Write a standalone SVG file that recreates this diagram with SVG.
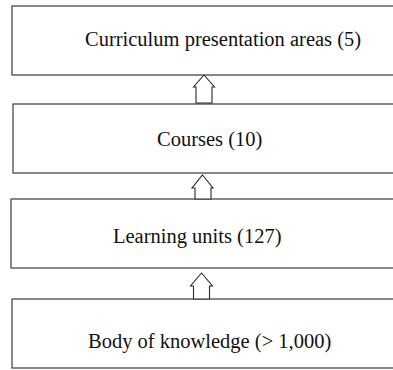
<svg xmlns="http://www.w3.org/2000/svg" width="393" height="370" viewBox="0 0 393 370">
<style>
.box{fill:#fff;stroke:#3a3a3a;stroke-width:1.2}
.lbl{font-family:"Liberation Serif","Times New Roman",serif;font-size:20.5px;fill:#111}
.arr{fill:#fff;stroke:#2a2a2a;stroke-width:1.1;stroke-linejoin:miter}
</style>
<rect width="393" height="370" fill="#fff"/>
<g id="node-curriculum">
<rect class="box" x="12" y="6" width="400" height="69"/>
<text class="lbl" x="85" y="46">Curriculum presentation areas (5)</text>
</g>
<g id="node-courses">
<rect class="box" x="13" y="104" width="400" height="69"/>
<text class="lbl" x="157" y="146">Courses (10)</text>
</g>
<g id="node-learning">
<rect class="box" x="11" y="199" width="400" height="69"/>
<text class="lbl" x="113" y="243">Learning units (127)</text>
</g>
<g id="node-body">
<rect class="box" x="12" y="299" width="400" height="69"/>
<text class="lbl" x="88" y="348">Body of knowledge (&gt; 1,000)</text>
</g>
<g id="connectors">
<path class="arr" d="M204,75 L214.5,87 L212,87 L212,103 L196,103 L196,87 L193.5,87 Z"/>
<path class="arr" d="M202.5,175 L213,188 L211,188 L211,199 L195,199 L195,188 L192,188 Z"/>
<path class="arr" d="M201.5,273 L212.5,286 L209.5,286 L209.5,299 L193.5,299 L193.5,286 L190.5,286 Z"/>
</g>
</svg>
